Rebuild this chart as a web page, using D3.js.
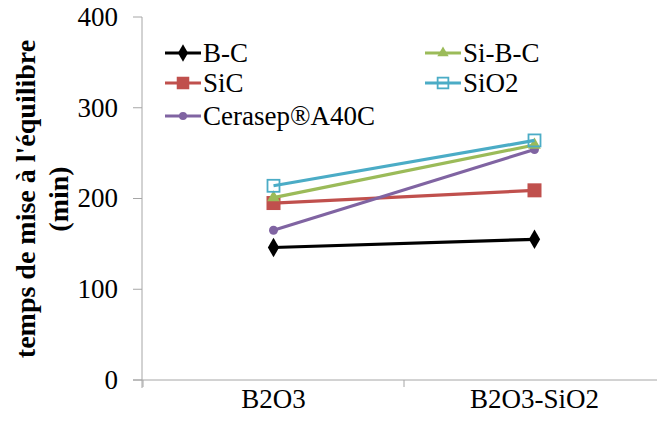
<!DOCTYPE html>
<html><head><meta charset="utf-8">
<script src="https://cdn.jsdelivr.net/npm/d3@7"></script>
<style>body{margin:0;background:#fff}svg{display:block}
svg text, svg tspan{font-family:"Liberation Serif",Tinos,"Times New Roman",serif;}</style>
</head><body>
<svg id="c" width="657" height="430" font-family="Liberation Serif"></svg>
<script>
const categories = ["B2O3", "B2O3-SiO2"];
const seriesNames = ["B-C", "SiC", "Cerasep®A40C", "Si-B-C", "SiO2"];
const bC = [146, 155];
const siC = [195, 209];
const cerasep = [165, 254];
const siBC = [201, 259];
const siO2 = [214, 264];
const yTicks = [0, 100, 200, 300, 400];

const colors = {"B-C":"#000000","SiC":"#C0504D","Cerasep®A40C":"#8064A2","Si-B-C":"#9BBB59","SiO2":"#4BACC6"};
const symbols = {"B-C":"diamond","SiC":"square","Cerasep®A40C":"circle","Si-B-C":"triangle","SiO2":"open"};
const values = {"B-C":bC,"SiC":siC,"Cerasep®A40C":cerasep,"Si-B-C":siBC,"SiO2":siO2};

const svg = d3.select("#c");
const x = d3.scaleBand().domain(categories).range([143, 665]);
const y = d3.scaleLinear().domain([0, 400]).range([380, 17]);
const axisColor = "#A6A6A6";

function label(parent, px, py, anchor, size, txt, dy){
  const t = parent.append("text").attr("text-anchor",anchor).style("font-size",size+"px");
  t.append("tspan").attr("x",px).attr("y",py).attr("dy",dy||"0").text(txt);
  return t;
}

// y axis
const ya = svg.append("g");
ya.append("line").attr("x1",142).attr("x2",142).attr("y1",y(400)).attr("y2",388).attr("stroke",axisColor);
yTicks.forEach(t=>{
  ya.append("line").attr("x1",133).attr("x2",142).attr("y1",y(t)).attr("y2",y(t)).attr("stroke",axisColor);
  label(ya, 118, y(t), "end", 27, String(t), "0.33em");
});

// x axis
const xa = svg.append("g");
xa.append("line").attr("x1",133).attr("x2",665).attr("y1",380).attr("y2",380).attr("stroke",axisColor);
[x.range()[0], x.range()[0]+x.step(), x.range()[1]].forEach(v=>{
  xa.append("line").attr("x1",v).attr("x2",v).attr("y1",380).attr("y2",387).attr("stroke",axisColor);
});
categories.forEach(c=>{
  label(xa, x(c)+x.bandwidth()/2, 408, "middle", 27, c);
});

// y title
const yt = svg.append("text").attr("transform","translate(25,199) rotate(-90)")
  .attr("text-anchor","middle").style("font-weight","bold").style("font-size","28px");
yt.append("tspan").attr("x",0).attr("dy","0.35em").text("temps de mise à l'équilibre");
yt.append("tspan").attr("x",0).attr("dy","1.18em").text("(min)");

function drawMarker(g, kind, color, cx, cy, scale){
  scale = scale||1;
  if(kind==="diamond"){
    g.append("path").attr("d", d3.symbol(d3.symbolDiamond, 110*scale)()).attr("transform",`translate(${cx},${cy})`).attr("fill",color);
  } else if(kind==="square"){
    const s=14*Math.sqrt(scale); g.append("rect").attr("x",cx-s/2).attr("y",cy-s/2).attr("width",s).attr("height",s).attr("fill",color);
  } else if(kind==="circle"){
    g.append("circle").attr("cx",cx).attr("cy",cy).attr("r",4.5*Math.sqrt(scale)).attr("fill",color);
  } else if(kind==="triangle"){
    g.append("path").attr("d", d3.symbol(d3.symbolTriangle, 70*scale)()).attr("transform",`translate(${cx},${cy})`).attr("fill",color);
  } else if(kind==="open"){
    const s=12*Math.sqrt(scale); g.append("rect").attr("x",cx-s/2).attr("y",cy-s/2).attr("width",s).attr("height",s).attr("fill","none").attr("stroke",color).attr("stroke-width",1.8);
  }
}

const line = d3.line().x((d,i)=>x(categories[i])+x.bandwidth()/2).y(d=>y(d));
const drawOrder = ["B-C","SiC","Cerasep®A40C","Si-B-C","SiO2"];
drawOrder.forEach(name=>{
  const g = svg.append("g");
  g.append("path").attr("d", line(values[name])).attr("fill","none").attr("stroke",colors[name]).attr("stroke-width",3.2);
  values[name].forEach((v,i)=>drawMarker(g, symbols[name], colors[name], x(categories[i])+x.bandwidth()/2, y(v)));
});

// legend
const legendItems = [
  {name:"B-C", lx:165, ly:53},
  {name:"SiC", lx:165, ly:83},
  {name:"Cerasep®A40C", lx:165, ly:116},
  {name:"Si-B-C", lx:425, ly:53},
  {name:"SiO2", lx:425, ly:83}
];
const lg = svg.append("g");
legendItems.forEach(it=>{
  const c = colors[it.name];
  lg.append("line").attr("x1",it.lx).attr("x2",it.lx+36).attr("y1",it.ly).attr("y2",it.ly).attr("stroke",c).attr("stroke-width",3.2);
  drawMarker(lg, symbols[it.name], c, it.lx+18, it.ly, 0.8);
  label(lg, it.lx+38, it.ly, "start", 27, it.name, "0.35em");
});
</script>
</body></html>
